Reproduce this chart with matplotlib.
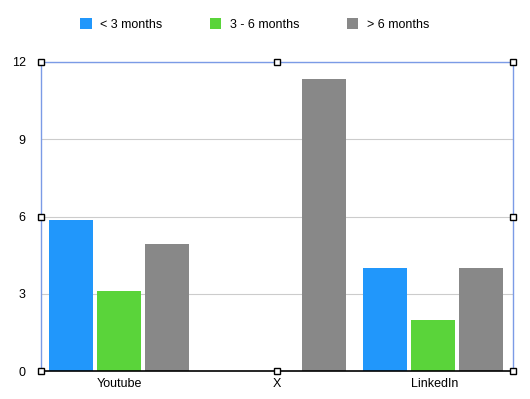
import numpy as np
import matplotlib
matplotlib.use('Agg')
import matplotlib.pyplot as plt

plt.rcParams['font.family'] = ['Liberation Sans', 'DejaVu Sans']

categorias = ['Youtube', 'X', 'LinkedIn']
series = ['< 3 months', '3 - 6 months', '> 6 months']
menos_3 = [5.85, 0, 4.0]
entre_3_6 = [3.1, 0, 2.0]
mas_6 = [4.95, 11.35, 4.0]
colores = ['#2197fb', '#5ad43a', '#888888']
yticks = [0, 3, 6, 9, 12]

fig = plt.figure(figsize=(5.3, 3.99), dpi=100)
ax = fig.add_axes([41/530, 1 - 371/399, 472/530, 309/399])

x = np.arange(len(categorias))
ancho, paso = 0.28, 0.305
for k, (vals, c, lb) in enumerate(zip([menos_3, entre_3_6, mas_6], colores, series)):
    ax.bar(x + (k - 1) * paso - 0.006, vals, width=ancho, color=c, label=lb, zorder=2)

ax.set_xlim(-0.5, 2.5)
ax.set_ylim(0, 12)
ax.set_yticks(yticks)
ax.set_xticks(x)
ax.set_xticklabels(categorias)
ax.yaxis.grid(True, color='#cccccc', linewidth=0.8, zorder=0)
ax.tick_params(length=0, labelsize=9, colors='black')
ax.tick_params(axis='y', pad=11)
ax.tick_params(axis='x', pad=5)
for s in ['top', 'left', 'right']:
    ax.spines[s].set_color('#7b9be6')
    ax.spines[s].set_linewidth(1.0)
ax.spines['bottom'].set_color('black')
ax.spines['bottom'].set_linewidth(1.2)

# manijas de seleccion
for hx in [0, 0.5, 1]:
    for hy in [0, 0.5, 1]:
        if hx == 0.5 and hy == 0.5:
            continue
        ax.plot(hx, hy, marker='s', markersize=4.5, markerfacecolor='white', markeredgecolor='black',
                markeredgewidth=1, transform=ax.transAxes, clip_on=False, zorder=5)

ax.legend(loc='lower center', bbox_to_anchor=(0.453, 1.065), ncol=3, frameon=False, fontsize=9,
          handlelength=0.9, handleheight=0.9, columnspacing=3.8, handletextpad=0.7)

plt.savefig('out.png', dpi=100)
